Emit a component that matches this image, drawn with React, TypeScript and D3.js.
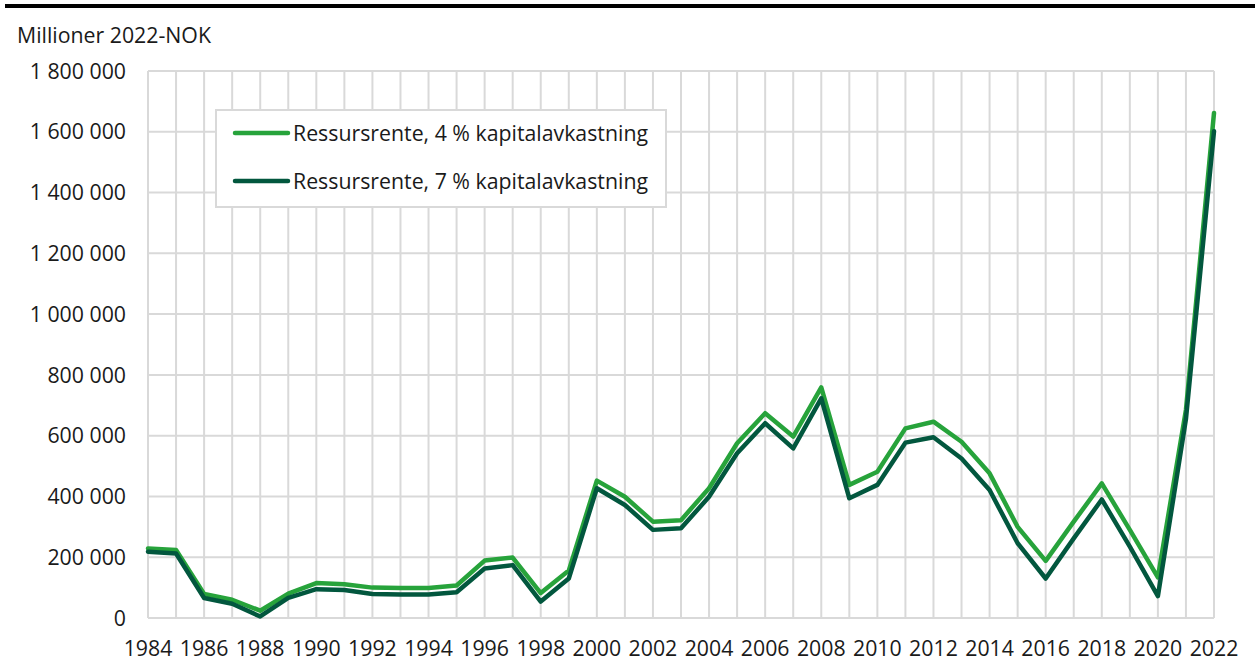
import * as d3 from 'd3'

const YEARS = d3.range(1984, 2023)

const RENT_4 = [
  229000, 224000, 79000, 60000, 24000, 80000, 115000, 111000, 100000, 99000,
  99000, 107000, 189000, 199000, 82000, 156000, 452000, 399000, 317000, 322000,
  427000, 575000, 674000, 597000, 759000, 438000, 481000, 624000, 646000, 580000,
  476000, 300000, 188000, 317000, 443000, 290000, 134000, 685000, 1662000,
]

const RENT_7 = [
  218000, 212000, 66000, 47000, 5000, 66000, 95000, 92000, 79000, 77000,
  77000, 85000, 163000, 174000, 54000, 130000, 427000, 372000, 290000, 295000,
  399000, 542000, 641000, 558000, 723000, 394000, 438000, 577000, 595000, 525000,
  421000, 246000, 130000, 262000, 390000, 235000, 72000, 655000, 1602000,
]

const SERIES_NAMES = ['Ressursrente, 4 % kapitalavkastning', 'Ressursrente, 7 % kapitalavkastning']
const Y_TICKS = d3.range(0, 1800001, 200000)
const X_TICKS = d3.range(1984, 2023, 2)

const W = 1255
const H = 671
const MARGIN = { top: 71, right: 41, bottom: 53, left: 148 }
const LIGHT = '#27a33b'
const DARK = '#02573e'
const GRID = '#d9d9d9'
const TEXT = '#1a1a1a'
const FONT = "'Open Sans', 'Noto Sans', sans-serif"
const FS = 21.3

const nok = d3.formatLocale({ decimal: ',', thousands: ' ', grouping: [3], currency: ['', ''] }).format(',')

export default function App() {
  const x = d3.scaleLinear().domain([1984, 2022]).range([MARGIN.left, W - MARGIN.right])
  const y = d3.scaleLinear().domain([0, 1800000]).range([H - MARGIN.bottom, MARGIN.top])

  const line = d3
    .line<number>()
    .x((_, i) => x(YEARS[i]))
    .y((d) => y(d))

  const series = [
    { name: SERIES_NAMES[0], values: RENT_4, color: LIGHT },
    { name: SERIES_NAMES[1], values: RENT_7, color: DARK },
  ]

  return (
    <svg
      width={W}
      height={H}
      style={{ position: 'absolute', left: 0, top: 0, background: '#fff' }}
      fontFamily={FONT}
    >
      <line x1={5} x2={W} y1={6} y2={6} stroke="#000" strokeWidth={4} />
      <text x={17} y={43} fontSize={FS} fill={TEXT}>Millioner 2022-NOK</text>

      {/* grid */}
      <g stroke={GRID} strokeWidth={2}>
        {Y_TICKS.map((t) => (
          <line key={'h' + t} x1={x(1984)} x2={x(2022)} y1={y(t)} y2={y(t)} />
        ))}
        {YEARS.map((yr) => (
          <line key={'v' + yr} x1={x(yr)} x2={x(yr)} y1={y(0)} y2={y(1800000)} />
        ))}
      </g>

      {/* y axis labels */}
      <g fontSize={FS} fill={TEXT} textAnchor="end">
        {Y_TICKS.map((t) => (
          <text key={t} x={126} y={y(t)} dy="0.36em">{nok(t)}</text>
        ))}
      </g>

      {/* x axis labels */}
      <g fontSize={FS} fill={TEXT} textAnchor="middle">
        {X_TICKS.map((t) => (
          <text key={t} x={x(t)} y={656}>{t}</text>
        ))}
      </g>

      {/* lines */}
      {series.map((s) => (
        <path
          key={s.name}
          d={line(s.values) ?? ''}
          fill="none"
          stroke={s.color}
          strokeWidth={4.5}
          strokeLinejoin="round"
          strokeLinecap="round"
        />
      ))}

      {/* legend */}
      <rect x={216} y={110} width={450} height={97} fill="#fff" stroke={GRID} strokeWidth={2} />
      {series.map((s, i) => (
        <g key={s.name} transform={`translate(0,${133 + i * 48})`}>
          <line x1={235} x2={288} y1={0} y2={0} stroke={s.color} strokeWidth={4.5} strokeLinecap="round" />
          <text x={293} y={0} dy="0.36em" fontSize={FS} fill={TEXT}>{s.name}</text>
        </g>
      ))}
    </svg>
  )
}
